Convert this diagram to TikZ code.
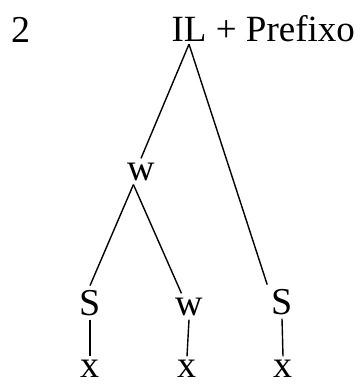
\documentclass[tikz,border=0pt]{standalone}
\usepackage{fontspec}
\setmainfont{Liberation Serif}
\usetikzlibrary{positioning}

\begin{document}
\begin{tikzpicture}[
  x=1pt, y=-1pt,
  lbl/.style={inner sep=4pt, anchor=base, font=\fontsize{38}{44}\selectfont},
  edge/.style={line width=1.4pt, black},
]
\useasboundingbox (0,0) rectangle (360,385);

% Number and root
\node[lbl, inner sep=0pt] (num) at (21,43) {2};
\node[lbl, inner sep=2pt, font=\fontsize{37}{44}\selectfont] (il) at (189,42) {IL};
\node[lbl, inner sep=0pt, anchor=base west, xshift=7pt, font=\fontsize{37}{44}\selectfont] (pref) at (il.base east) {+ Prefixo};

% Inner nodes
\node[lbl] (wtop) at (141,180) {w};
\node[lbl] (s1) at (90,315) {S};
\node[lbl] (w2) at (189,315) {w};
\node[lbl] (s3) at (282,314) {S};

% Leaves
\node[lbl, inner sep=3pt] (x1) at (90,377) {x};
\node[lbl, inner sep=3pt] (x2) at (187,377) {x};
\node[lbl, inner sep=3pt] (x3) at (283,377) {x};

% Branches
\draw[edge] (il.south) -- (wtop.north);
\draw[edge] (il.south) -- (s3.north west);
\draw[edge] (wtop.240) -- (s1.north);
\draw[edge] (wtop.240) -- (w2.120);

% Lines down to the leaves
\draw[edge] (s1.south) -- (x1.north);
\draw[edge] (w2.south) -- (x2.north);
\draw[edge] (s3.south) -- (x3.north);
\end{tikzpicture}
\end{document}
